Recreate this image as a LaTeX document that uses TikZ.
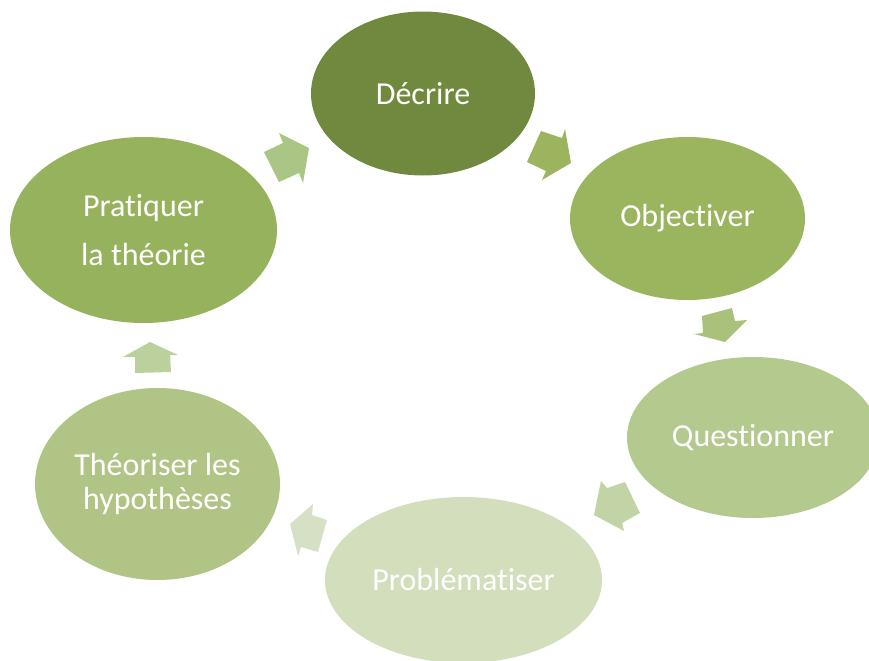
\documentclass[tikz,border=0pt]{standalone}
\usepackage{fontspec}
\setmainfont[Ligatures={NoCommon}]{Carlito}
\usetikzlibrary{shapes.geometric}
\definecolor{cDec}{HTML}{70893E}
\definecolor{cObj}{HTML}{9BB55E}
\definecolor{cQue}{HTML}{B4C98D}
\definecolor{cPro}{HTML}{D2DEBC}
\definecolor{cThe}{HTML}{B0C585}
\definecolor{cPra}{HTML}{97B25C}
\definecolor{aA}{HTML}{ABC584}
\definecolor{aB}{HTML}{9BB45D}
\definecolor{aC}{HTML}{A9C17B}
\definecolor{aD}{HTML}{C2D4A6}
\definecolor{aE}{HTML}{D6E0C5}
\definecolor{aF}{HTML}{BCD09E}
\tikzset{
  stage/.style={ellipse, inner sep=0pt, text=white, align=center,
    font=\fontsize{24}{29}\selectfont},
  blockarrow/.style={draw=none}
}
\begin{document}
\begin{tikzpicture}[x=0.75pt,y=-0.75pt]
\useasboundingbox (0,0) rectangle (869,661);
\clip (0,0) rectangle (869,661);
\node[stage, fill=cDec, minimum width=168pt, minimum height=123pt] (decrire) at (423,93.5) {Décrire};
\node[stage, fill=cObj, minimum width=176.25pt, minimum height=122.25pt] (objectiver) at (687.5,218.5) {Objectiver};
\node[stage, fill=cQue, minimum width=189pt, minimum height=120.75pt] (questionner) at (753,437.5) {Questionner};
\node[stage, fill=cPro, minimum width=207.75pt, minimum height=124.5pt] (problematiser) at (463.5,580) {Problématiser};
\node[stage, fill=cThe, minimum width=183.75pt, minimum height=144pt, font=\fontsize{24}{25.5}\selectfont] (theoriser) at (157.5,484) {Théoriser les\\hypothèses};
\node[stage, fill=cPra, minimum width=200.25pt, minimum height=139.5pt, font=\fontsize{24}{36.75}\selectfont] (pratiquer) at (143.5,230) {Pratiquer\\la théorie};
% block arrows
\fill[aA] (264,152) -- (283,143) -- (279,133) -- (309,148) -- (303,183) -- (299,173) -- (279,182) -- cycle;
\fill[aB] (541,131) -- (562,138) -- (565,129) -- (571,163) -- (542,180) -- (546,171) -- (527,162) -- cycle;
\fill[aC] (702,316) -- (732,308) -- (735,321) -- (747,320) -- (725,342) -- (694,334) -- (703,333) -- cycle;
\fill[aD] (601,481) -- (607,488) -- (625,482) -- (640,513) -- (622,523) -- (624,531) -- (594,515) -- cycle;
\fill[aE] (313,504) -- (312,515) -- (327,520) -- (318,552) -- (301,547) -- (298,556) -- (290,524) -- cycle;
\fill[aF] (150,342) -- (178,355) -- (170,355) -- (171,372) -- (135,373) -- (135,357) -- (123,357) -- cycle;
\end{tikzpicture}
\end{document}
